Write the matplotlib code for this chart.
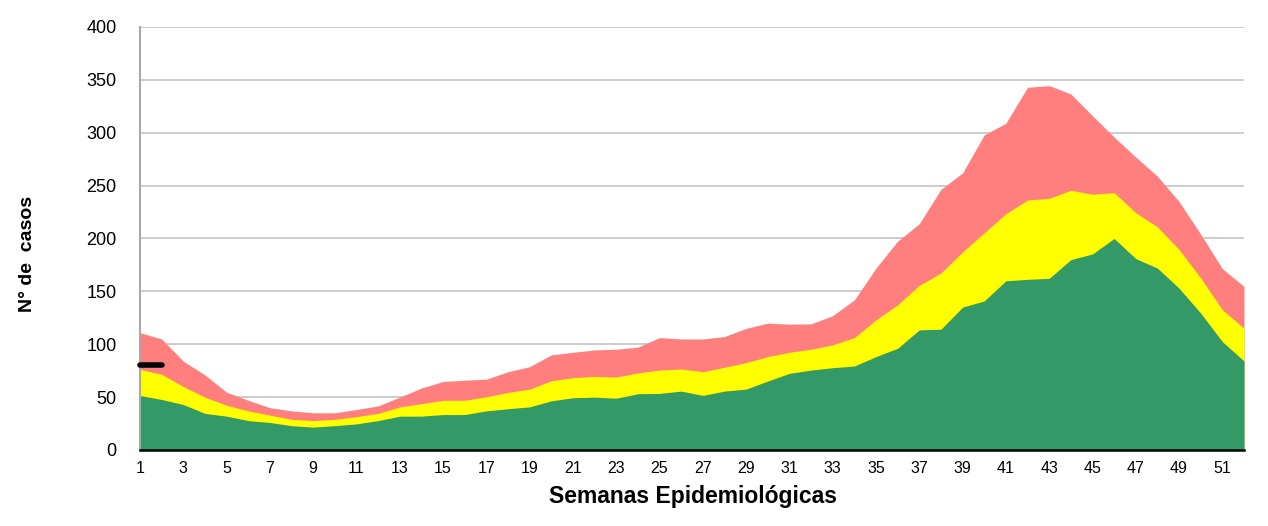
import matplotlib
matplotlib.use("Agg")
import matplotlib.pyplot as plt
import numpy as np

weeks = list(range(1, 53))

# Upper limit of each zone (cases), weeks 1..52
zona_exito = [51.5, 47.8, 43.0, 34.6, 32.0, 27.8, 26.0, 23.0, 21.6, 23.0,
              24.7, 27.8, 32.0, 32.0, 33.5, 33.5, 37.0, 39.0, 40.8, 46.5,
              49.4, 50.0, 49.0, 53.2, 53.5, 55.7, 51.6, 55.7, 57.6, 65.2,
              72.5, 75.6, 77.8, 79.4, 88.3, 96.2, 113.6, 114.2, 135.1, 141.0,
              160.0, 161.4, 162.3, 180.0, 185.4, 200.0, 181.0, 172.0, 153.0, 129.4,
              102.5, 84.2]
zona_seguridad = [76.2, 71.6, 60.0, 50.0, 42.3, 37.0, 33.0, 29.0, 27.8, 29.0,
                  31.5, 34.6, 40.7, 43.8, 47.0, 47.0, 50.3, 54.4, 57.6, 65.5,
                  68.4, 69.6, 69.0, 72.8, 75.6, 76.6, 74.0, 78.2, 82.6, 88.3,
                  92.4, 95.3, 99.4, 106.3, 123.0, 137.3, 155.7, 167.4, 187.3, 205.4,
                  223.4, 236.4, 238.0, 245.6, 241.8, 243.4, 224.4, 211.0, 189.6, 162.7,
                  132.6, 115.2]
zona_alarma = [111.0, 105.0, 84.0, 71.0, 54.6, 47.0, 40.0, 37.0, 35.2, 35.2,
               38.3, 41.7, 50.0, 58.6, 64.8, 66.0, 67.0, 74.0, 78.8, 89.9,
               92.4, 94.6, 95.3, 97.2, 106.3, 105.0, 105.0, 107.3, 115.0, 120.0,
               119.0, 119.3, 127.0, 142.0, 172.0, 197.5, 214.0, 246.5, 262.0, 298.0,
               309.0, 343.0, 344.6, 336.7, 316.0, 296.0, 277.0, 259.0, 235.0, 204.0,
               171.5, 154.7]
casos_weeks = [1, 2]
casos = [80, 80]

xtick_labels = [str(w) for w in range(1, 53, 2)]
yticks = list(range(0, 401, 50))

plt.rcParams['font.family'] = ['Liberation Sans', 'DejaVu Sans']

fig = plt.figure(figsize=(12.68, 5.26), dpi=100)
ax = fig.add_axes([140/1268, 1-450/526, 1104/1268, 423/526])

ax.fill_between(weeks, 0, zona_alarma, color='#FF7F7F', linewidth=0, zorder=2)
ax.fill_between(weeks, 0, zona_seguridad, color='#FFFF00', linewidth=0, zorder=3)
ax.fill_between(weeks, 0, zona_exito, color='#339966', linewidth=0, zorder=4)
ax.plot(casos_weeks, casos, color='black', linewidth=4, solid_capstyle='round',
        zorder=8, clip_on=False)

ax.set_xlim(1, 52)
ax.set_ylim(0, 400)
ax.set_yticks(yticks)
ax.set_xticks(list(range(1, 53, 2)))
ax.set_xticklabels(xtick_labels, fontsize=11.5)
ax.tick_params(axis='y', length=0, pad=17, labelsize=13)
ax.tick_params(axis='x', length=0, pad=8)
ax.grid(axis='y', color='#C8C8C8', linewidth=1.3, zorder=0)
ax.set_axisbelow(True)

for s in ['top', 'right']:
    ax.spines[s].set_visible(False)
ax.spines['left'].set_color('#A8A8A8')
ax.spines['left'].set_linewidth(1.5)
ax.spines['left'].set_zorder(7)
ax.spines['bottom'].set_color('black')
ax.spines['bottom'].set_linewidth(1.8)
ax.spines['bottom'].set_zorder(7)

ax.set_ylabel('N° de  casos', fontsize=14, fontweight='bold')
ax.yaxis.set_label_coords(-0.094, 0.463)
ax.set_xlabel('Semanas Epidemiológicas', fontsize=16.5, fontweight='bold')
ax.xaxis.set_label_coords(0.501, -0.082)
ax.xaxis.label.set_verticalalignment('top')

fig.savefig('out.png', dpi=100)
